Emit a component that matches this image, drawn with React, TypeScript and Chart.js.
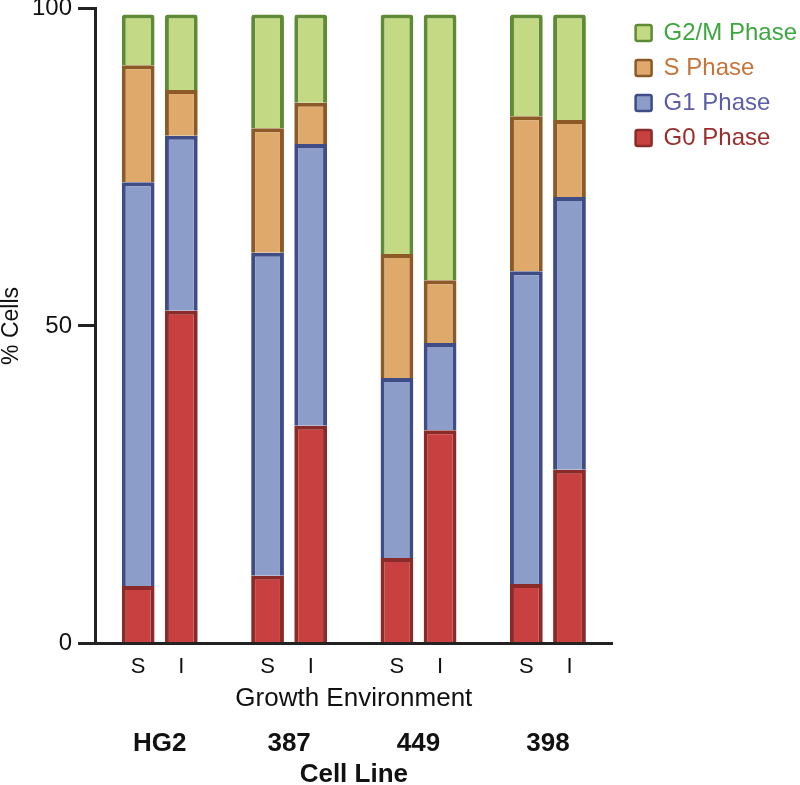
import React, { useEffect, useRef } from "react";
import { Chart, registerables } from "chart.js";

Chart.register(...registerables);

const cellLines = ["HG2", "387", "449", "398"];
const environments = ["S", "I"];
const phaseNames = ["G0 Phase", "G1 Phase", "S Phase", "G2/M Phase"];

// values per bar, order: HG2 S, HG2 I, 387 S, 387 I, 449 S, 449 I, 398 S, 398 I
const g0Values = [9.1, 52.4, 10.7, 34.3, 13.5, 33.6, 9.4, 27.4];
const g1Values = [63.5, 27.5, 50.8, 44.3, 28.3, 13.7, 49.2, 42.9];
const sValues = [18.4, 7.2, 19.6, 6.5, 19.5, 9.9, 24.4, 12.1];
const g2mValues = [8.0, 11.9, 17.9, 13.9, 37.7, 41.8, 16.0, 16.6];

const yTicks = [0, 50, 100];

const fills = ["#c8403f", "#8c9dc9", "#dfa96c", "#c3d984"];
const borders = ["#8a2b2a", "#3f4c86", "#8c5a26", "#5f8b36"];
const legendTextColors = ["#9a2e2c", "#5c5ca8", "#c8733a", "#3ea63f"];

const FONT = "'Liberation Sans', Arial, Helvetica, sans-serif";

// category labels with a spacer slot around each pair
const categoryLabels: string[] = [""];
cellLines.forEach(() => {
  categoryLabels.push(...environments, "");
});

function expand(values: number[]): (number | null)[] {
  const out: (number | null)[] = [null];
  for (let g = 0; g < cellLines.length; g++) {
    for (let e = 0; e < environments.length; e++) {
      out.push(values[g * environments.length + e]);
    }
    out.push(null);
  }
  return out;
}

export default function App() {
  const ref = useRef<HTMLCanvasElement | null>(null);

  useEffect(() => {
    if (!ref.current) return;
    Chart.defaults.font.family = FONT;
    const series = [g0Values, g1Values, sValues, g2mValues];
    const chart = new Chart(ref.current, {
      type: "bar",
      data: {
        labels: categoryLabels,
        datasets: series.map((vals, i) => ({
          label: phaseNames[i],
          data: expand(vals),
          backgroundColor: fills[i],
          borderColor: borders[i],
          borderWidth: 4,
          borderSkipped: "start",
          borderRadius: i === series.length - 1 ? 3 : 0,
          barPercentage: 0.76,
          categoryPercentage: 1,
        })),
      },
      options: {
        animation: false,
        responsive: true,
        maintainAspectRatio: false,
        layout: { padding: { left: 0, top: 0, bottom: 0, right: -7 } },
        plugins: {
          tooltip: { enabled: false },
          legend: {
            position: "right",
            align: "start",
            reverse: true,
            maxWidth: 220,
            title: { display: true, text: "", font: { size: 10, lineHeight: 1 }, padding: 0 },
            labels: {
              boxWidth: 16,
              boxHeight: 16,
              padding: 11,
              useBorderRadius: true,
              borderRadius: 2,
              font: { size: 24, family: FONT },
              generateLabels: (c: any) => {
                const items = Chart.defaults.plugins.legend.labels.generateLabels(c);
                return items.map((it: any) => ({
                  ...it,
                  lineWidth: 2.5,
                  fontColor: legendTextColors[it.datasetIndex],
                }));
              },
            },
          },
        },
        scales: {
          x: {
            type: "category",
            stacked: true,
            offset: false,
            weight: 0,
            grid: { display: false, drawTicks: false },
            border: { display: true, color: "#222", width: 3 },
            ticks: {
              autoSkip: false,
              maxRotation: 0,
              padding: 12,
              color: "#111",
              font: { size: 22, lineHeight: 1, family: FONT },
            },
            title: {
              display: true,
              text: "Growth Environment",
              color: "#111",
              font: { size: 26, lineHeight: 0.69, family: FONT },
              padding: { top: 0, bottom: 0 },
            },
          },
          xCell: {
            type: "category",
            axis: "x",
            position: "bottom",
            labels: cellLines,
            offset: true,
            weight: 1,
            grid: { display: false, drawTicks: false },
            border: { display: false },
            ticks: {
              autoSkip: false,
              maxRotation: 0,
              padding: 23,
              color: "#111",
              font: { size: 26, weight: "bold", lineHeight: 1, family: FONT },
            },
            title: {
              display: true,
              text: "Cell Line",
              color: "#111",
              font: { size: 26, weight: "bold", lineHeight: 0.2, family: FONT },
              padding: { top: -7.4, bottom: 7.4 },
            },
          },
          y: {
            stacked: true,
            min: 0,
            max: 100,
            afterBuildTicks: (axis: any) => {
              axis.ticks = yTicks.map((v) => ({ value: v }));
            },
            grid: {
              display: true,
              drawOnChartArea: false,
              drawTicks: true,
              tickLength: 17,
              color: "#222",
              lineWidth: 3,
            },
            border: { display: true, color: "#222", width: 3 },
            ticks: {
              padding: 6,
              color: "#111",
              font: { size: 24, lineHeight: 0.17, family: FONT },
            },
            title: {
              display: true,
              text: "% Cells",
              color: "#111",
              font: { size: 23, lineHeight: 1.2, family: FONT },
              padding: { top: -2, bottom: 0.4 },
            },
          },
          yPad: {
            type: "linear",
            axis: "y",
            position: "right",
            display: true,
            grid: { display: false },
            border: { display: false },
            ticks: { display: false },
            afterFit: (s: any) => {
              s.width = 12;
            },
          },
        },
      } as any,
    });
    return () => chart.destroy();
  }, []);

  return (
    <div style={{ position: "absolute", left: 0, top: 0, width: 800, height: 785 }}>
      <canvas ref={ref} />
    </div>
  );
}
